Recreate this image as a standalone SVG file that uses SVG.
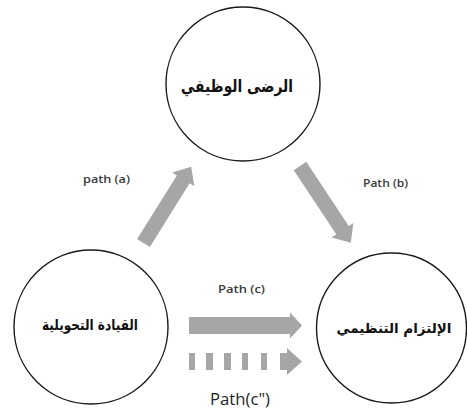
<svg xmlns="http://www.w3.org/2000/svg" width="467" height="412" viewBox="0 0 467 412">
  <style>
    .node circle { fill: #ffffff; stroke: #1a1a1a; stroke-width: 1.4; }
    .ar { font-family: "DejaVu Sans", sans-serif; font-weight: bold; fill: #111111; text-anchor: middle; }
    .lbl { font-family: "Open Sans", "Liberation Sans", sans-serif; font-weight: 600; font-size: 11.5px; fill: #3a3a3a; }
    .arrow { fill: #a6a6a6; }
  </style>
  <rect width="467" height="412" fill="#ffffff"/>

  <g id="node-job-satisfaction" class="node">
    <circle cx="243" cy="84" r="77"/>
    <text class="ar" x="237" y="92" font-size="17" textLength="112" lengthAdjust="spacingAndGlyphs">الرضى الوظيفي</text>
  </g>

  <g id="node-transformational-leadership" class="node">
    <circle cx="91" cy="327" r="77"/>
    <text class="ar" x="90" y="330" font-size="15" textLength="96" lengthAdjust="spacingAndGlyphs">القيادة التحويلية</text>
  </g>

  <g id="node-organizational-commitment" class="node">
    <circle cx="391.5" cy="328" r="75"/>
    <text class="ar" x="394" y="333" font-size="13.5">الإلتزام التنظيمي</text>
  </g>

  <g id="connectors">
    <!-- path (a): leadership -> satisfaction -->
    <polygon class="arrow" transform="translate(143.5,243) rotate(-58)" points="0,-7.5 75,-7.5 75,-13 90,0 75,13 75,7.5 0,7.5"/>
    <!-- path (b): satisfaction -> commitment -->
    <polygon class="arrow" transform="translate(300,166) rotate(56.5)" points="0,-7.5 77,-7.5 77,-13 92,0 77,13 77,7.5 0,7.5"/>
    <!-- path (c): direct effect -->
    <polygon class="arrow" points="189,317 290,317 290,312.5 302,325.5 290,338.5 290,334 189,334"/>
    <!-- path (c''): dashed direct effect -->
    <g class="arrow">
      <rect x="189" y="353" width="6" height="17"/>
      <rect x="206" y="353" width="7" height="17"/>
      <rect x="224" y="353" width="7" height="17"/>
      <rect x="242" y="353" width="6" height="17"/>
      <rect x="261" y="353" width="6" height="17"/>
      <polygon points="280,353 287,353 287,348 302,361.5 287,375 287,370 280,370"/>
    </g>
    <text class="lbl" x="83" y="183" textLength="47" lengthAdjust="spacingAndGlyphs">path (a)</text>
    <text class="lbl" x="363" y="187" textLength="45" lengthAdjust="spacingAndGlyphs">Path (b)</text>
    <text class="lbl" x="218" y="293" textLength="47" lengthAdjust="spacingAndGlyphs">Path (c)</text>
    <text x="210" y="405" font-family="Open Sans, Liberation Sans, sans-serif" font-size="16" fill="#1e1e1e" textLength="60" lengthAdjust="spacingAndGlyphs">Path(c")</text>
  </g>
</svg>
